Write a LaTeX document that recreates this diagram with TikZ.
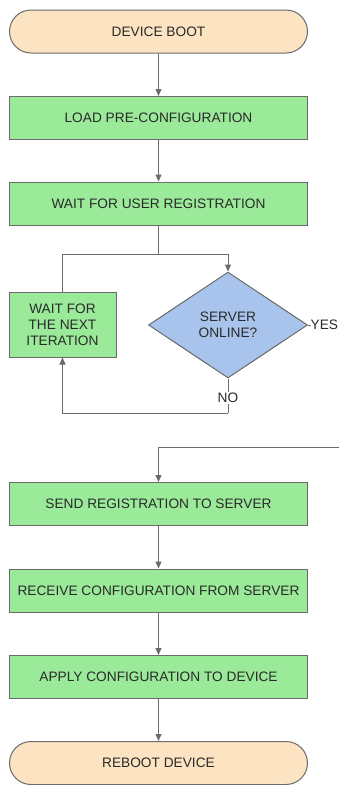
\documentclass[tikz,border=0pt]{standalone}
\usepackage{fontspec}
\setmainfont{Liberation Sans}
\usetikzlibrary{shapes.geometric,arrows.meta}
\definecolor{boxgreen}{HTML}{9AEA9A}
\definecolor{termfill}{HTML}{FCE3C2}
\definecolor{decfill}{HTML}{A9C4EC}
\definecolor{edge}{HTML}{6B6B6B}
\definecolor{txt}{HTML}{2A2A2A}
\tikzset{
  base/.style={draw=edge, line width=1pt, text=txt, font=\fontsize{13.7}{16.2}\selectfont, inner sep=0pt},
  procbox/.style={base, rectangle, fill=boxgreen, minimum width=298pt, minimum height=43pt},
  smallbox/.style={base, rectangle, fill=boxgreen, minimum width=107pt, minimum height=65pt, align=center},
  termbox/.style={base, rectangle, rounded corners=21.5pt, fill=termfill, minimum width=298pt, minimum height=43pt},
  decbox/.style={base, diamond, fill=decfill, minimum width=159pt, minimum height=106pt, align=center, aspect=1.5},
  conn/.style={draw=edge, line width=1pt},
  arr/.style={conn, -{Triangle[length=7pt,width=6pt]}},
  lbl/.style={text=txt, font=\fontsize{13.7}{16.2}\selectfont, inner sep=1pt}
}
\begin{document}
\begin{tikzpicture}[x=1pt,y=-1pt]
\useasboundingbox (0,0) rectangle (339,785);
\fill[white] (0,0) rectangle (339,785);
\node[termbox] (boot) at (158.5,31.5) {DEVICE BOOT};
\node[procbox] (load) at (158.5,118) {LOAD PRE-CONFIGURATION};
\node[procbox] (wuser) at (158.5,203.5) {WAIT FOR USER REGISTRATION};
\node[smallbox] (wnext) at (62.5,324.5) {WAIT FOR\\THE NEXT\\ITERATION};
\node[decbox] (dec) at (228,325) {SERVER\\ONLINE?};
\node[lbl, anchor=west, inner sep=0pt] (yes) at (310.5,325) {YES};
\node[lbl, fill=white] (no) at (228,398) {NO};
\coordinate (j) at (158.5,254);
\coordinate (nob) at (228,413);
\coordinate (edgein) at (339,447);
\node[procbox] (send) at (158.5,504) {SEND REGISTRATION TO SERVER};
\node[procbox] (recv) at (158.5,590.5) {RECEIVE CONFIGURATION FROM SERVER};
\node[procbox] (apply) at (158.5,677) {APPLY CONFIGURATION TO DEVICE};
\node[termbox] (reboot) at (158.5,763) {REBOOT DEVICE};

\draw[arr] (boot) -- (load);
\draw[arr] (load) -- (wuser);
\draw[conn] (wuser.south) -- (j);
\draw[arr] (j) -| (dec.north);
\draw[conn] (wnext.north) |- (j);
\draw[conn] (dec.south) -- (no.north);
\draw[conn] (no.south) -- (nob);
\draw[arr] (nob) -| (wnext.south);
\draw[conn] (dec.east) -- (yes.west);
\draw[arr] (edgein) -| (send.north);
\draw[arr] (send) -- (recv);
\draw[arr] (recv) -- (apply);
\draw[arr] (apply) -- (reboot);
\end{tikzpicture}
\end{document}
